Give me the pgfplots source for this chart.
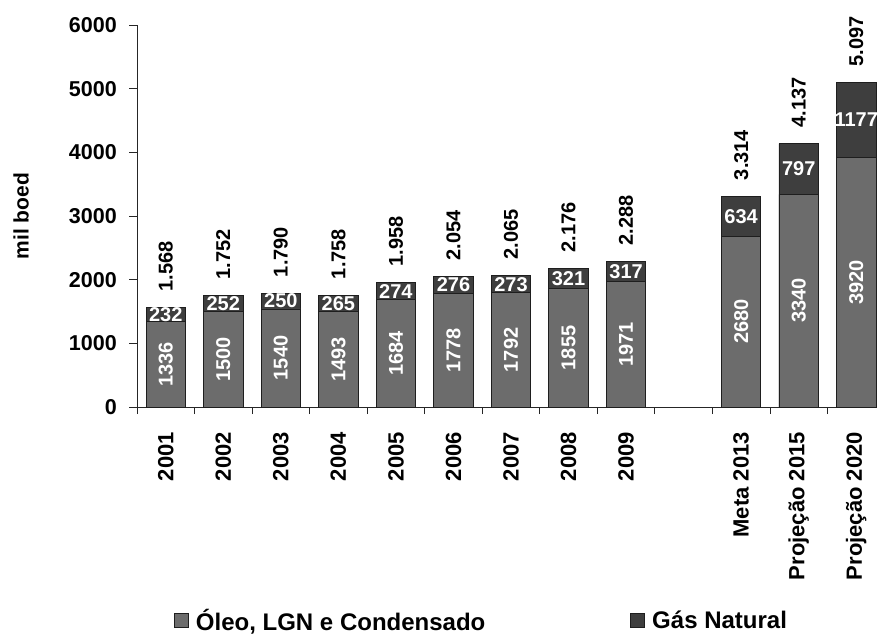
\documentclass[border=0pt]{standalone}
\usepackage{fontspec}
\setmainfont{Liberation Sans}
\usepackage{pgfplots}
\pgfplotsset{compat=1.18}
\usepackage{pgfplotstable}

\definecolor{oilc}{RGB}{108,108,108}
\definecolor{gasc}{RGB}{62,62,62}
\definecolor{edgec}{RGB}{30,30,30}

% x: slot position (9 is the empty gap)
\pgfplotstableread{
x  oil   gas
0  1336  232
1  1500  252
2  1540  250
3  1493  265
4  1684  274
5  1778  276
6  1792  273
7  1855  321
8  1971  317
10 2680  634
11 3340  797
12 3920  1177
}\prod

\begin{document}
\begin{tikzpicture}
\begin{axis}[
    at={(137pt,228pt)}, anchor=south west,
    scale only axis,
    width=748pt, height=382pt,
    xmin=-0.5, xmax=12.5,
    ymin=0, ymax=6000,
    axis x line*=bottom, axis y line*=left,
    axis line style={-, draw=black!85, line width=0.8pt},
    ytick={0,1000,...,6000},
    /pgf/number format/1000 sep={},
    /pgf/number format/assume math mode=true,
    tick align=outside,
    major tick length=8pt,
    tick style={draw=black!85, line width=0.8pt},
    xtick={0,...,12},
    xticklabels={2001,2002,2003,2004,2005,2006,2007,2008,2009,{},Meta 2013,Projeção 2015,Projeção 2020},
    x tick style={draw=none},
    minor xtick={-0.5,0.5,...,12.5},
    minor x tick style={draw=black!85, line width=0.8pt},
    minor tick length=7pt,
    yticklabel style={anchor=east, inner sep=0pt, xshift=-12pt,
        font=\bfseries\fontsize{21.5}{24}\selectfont},
    xticklabel style={rotate=90, anchor=east, inner sep=0pt,
        font=\bfseries\fontsize{22}{24}\selectfont},
    xticklabel shift=17pt,
    ylabel={mil boed},
    every axis y label/.style={at={(axis description cs:-0.155,0.5)}, rotate=90, anchor=center,
        font=\bfseries\fontsize{21}{24}\selectfont},
    legend columns=2,
    legend style={at={(axis description cs:0.0453,-0.558)}, anchor=west, draw=none, fill=none,
        font=\bfseries\fontsize{24}{26}\selectfont,
        /tikz/every odd column/.append style={column sep=5pt},
        /tikz/every even column/.append style={column sep=143pt}},
    legend image code/.code={\draw[#1] (-4pt,-7pt) rectangle (10pt,7pt);},
]
% full bars (dark), then lower part (light) on top of them
\addplot[ybar, bar width=39.5pt, bar shift=0pt, fill=gasc, draw=edgec, line width=0.9pt, forget plot]
    table[x=x, y expr=\thisrow{oil}+\thisrow{gas}] {\prod};
\addplot[ybar, bar width=39.5pt, bar shift=0pt, fill=oilc, draw=edgec, line width=0.9pt, forget plot]
    table[x=x, y=oil] {\prod};

% labels inside the lower part
\addplot[draw=none, mark=none, forget plot, point meta=explicit symbolic,
    nodes near coords,
    every node near coord/.style={rotate=90, anchor=center, text=white,
        font=\bfseries\fontsize{20}{22}\selectfont}]
    table[x=x, y expr=\thisrow{oil}/2, meta=oil] {\prod};
% labels inside the upper part
\addplot[draw=none, mark=none, forget plot, point meta=explicit symbolic,
    nodes near coords,
    every node near coord/.style={anchor=center, inner sep=0pt, text=white,
        font=\bfseries\fontsize{20}{22}\selectfont}]
    table[x=x, y expr=\thisrow{oil}+\thisrow{gas}/2, meta=gas] {\prod};
% totals above the bars
\addplot[draw=none, mark=none, forget plot, point meta=y,
    nodes near coords={\pgfmathprintnumber[fixed, precision=0, 1000 sep={.}, assume math mode=true]{\pgfplotspointmeta}},
    every node near coord/.style={rotate=90, anchor=west, inner xsep=0pt, outer xsep=16pt, text=black,
        font=\bfseries\fontsize{20}{22}\selectfont}]
    table[x=x, y expr=\thisrow{oil}+\thisrow{gas}] {\prod};

\addlegendimage{fill=oilc, draw=edgec, line width=0.9pt}
\addlegendentry{Óleo, LGN e Condensado}
\addlegendimage{fill=gasc, draw=edgec, line width=0.9pt}
\addlegendentry{Gás Natural}
\end{axis}
\pgfresetboundingbox
\useasboundingbox (0,0) rectangle (877pt,635pt);
\end{tikzpicture}
\end{document}
